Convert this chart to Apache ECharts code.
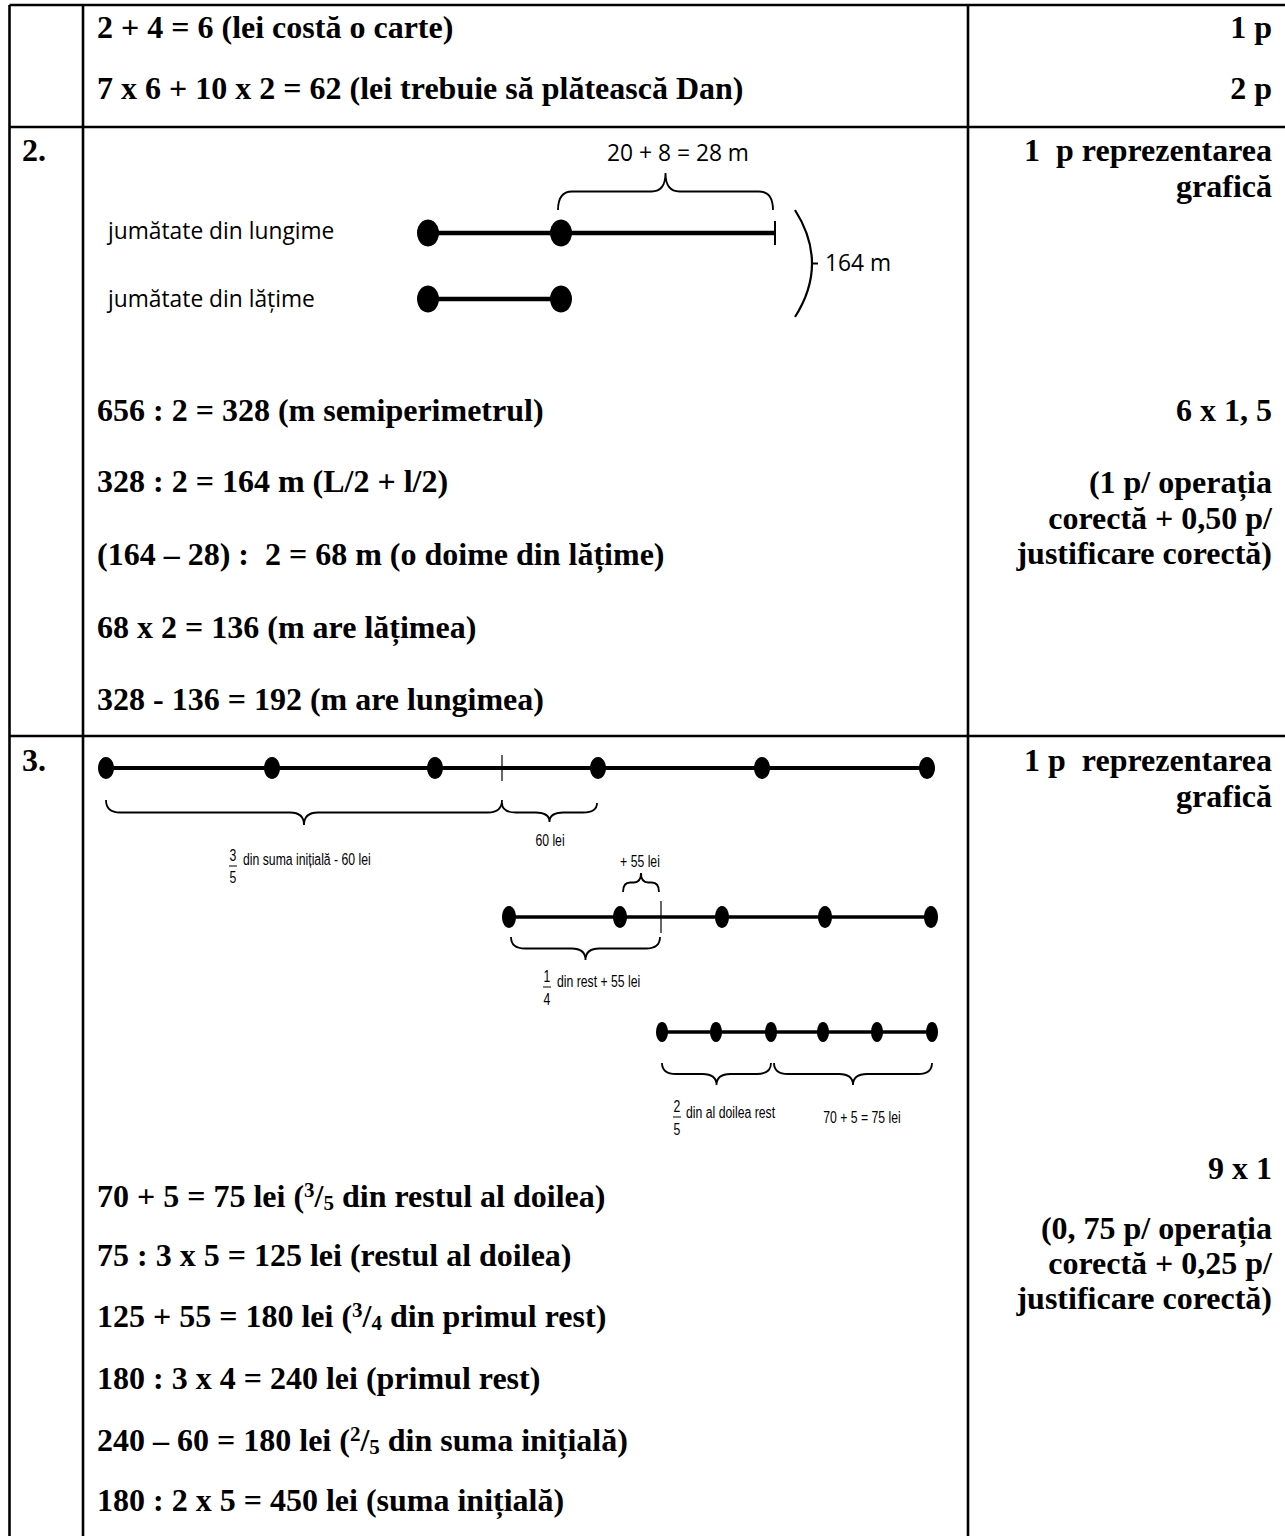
<!DOCTYPE html>
<html><head><meta charset="utf-8">
<style>html,body{margin:0;padding:0;background:#fff}#c{width:1285px;height:1536px}</style>
<script src="https://cdn.jsdelivr.net/npm/echarts@6/dist/echarts.min.js"></script>
</head><body><div id="c"></div><script>
// ---------------- content (text) ----------------
const row1Steps = ["2 + 4 = 6 (lei costă o carte)", "7 x 6 + 10 x 2 = 62 (lei trebuie să plătească Dan)"];
const row1Points = ["1 p", "2 p"];
const row2Number = "2.";
const row2Scoring = ["1  p reprezentarea", "grafică", "6 x 1, 5", "(1 p/ operația", "corectă + 0,50 p/", "justificare corectă)"];
const row2Steps = ["656 : 2 = 328 (m semiperimetrul)", "328 : 2 = 164 m (L/2 + l/2)", "(164 – 28) :  2 = 68 m (o doime din lățime)", "68 x 2 = 136 (m are lățimea)", "328 - 136 = 192 (m are lungimea)"];
const row3Number = "3.";
const row3Scoring = ["1 p  reprezentarea", "grafică", "9 x 1", "(0, 75 p/ operația", "corectă + 0,25 p/", "justificare corectă)"];
const row3Steps = ["70 + 5 = 75 lei ({sup|3}/{den|5} din restul al doilea)", "75 : 3 x 5 = 125 lei (restul al doilea)", "125 + 55 = 180 lei ({sup|3}/{den|4} din primul rest)", "180 : 3 x 4 = 240 lei (primul rest)", "240 – 60 = 180 lei ({sup|2}/{den|5} din suma inițială)", "180 : 2 x 5 = 450 lei (suma inițială)"];
const d2Labels = ["20 + 8 = 28 m", "jumătate din lungime", "jumătate din lățime", "164 m"];
const d3Labels = ["60 lei", "din suma inițială - 60 lei", "+ 55 lei", "din rest + 55 lei", "din al doilea rest", "70 + 5 = 75 lei"];
const d3Fractions = [["3", "5"], ["1", "4"], ["2", "5"]];

// ---------------- diagram values (page-axis units) ----------------
const halfLengthDots = [428, 561];
const halfLengthEnd = 775;
const halfWidthDots = [428, 561];
const d3Line1Dots = [106, 272, 435, 598, 762, 927];
const d3Line1Tick = 502;
const d3Line2Dots = [509, 620, 722, 825, 931];
const d3Line2Tick = 661;
const d3Line3Dots = [662, 716, 771, 823, 877, 932];

// ---------------- layout ----------------
const W = 1285, H = 1536;
const tableCols = [9.5, 83, 968];
const tableRows = [5, 127, 736];
const X_STEP = 97, X_RIGHT = 1272, X_NUM = 22;
const row1Y = [27, 88];
const row2ScoreY = [150, 186, 410, 482, 518, 553];
const row2StepY = [410, 481, 554, 627, 699];
const row3ScoreY = [760, 796, 1168, 1228, 1263, 1298];
const row3StepY = [1196, 1255, 1316, 1378, 1440, 1500];
const d2Y = {len: 233, wid: 299};
const d3Y = [768, 917, 1032];

const SERIF = '"Liberation Serif", "Times New Roman", serif';
const SANS = '"Open Sans", "Liberation Sans", sans-serif';
const NARROW = '"Liberation Sans Narrow", "Liberation Sans", sans-serif';
const BOLD = 'bold 32px ' + SERIF;
const SUPRICH = {
  sup: {fontFamily: SERIF, fontWeight: 'bold', fontSize: 21, verticalAlign: 'top', lineHeight: 34},
  den: {fontFamily: SERIF, fontWeight: 'bold', fontSize: 21, verticalAlign: 'bottom', lineHeight: 34}
};

const texts = [];
function addText(text, x, y, opt) { texts.push(Object.assign({text: text, x: x, y: y, font: BOLD, align: 'left'}, opt || {})); }

row1Steps.forEach((s, i) => addText(s, X_STEP, row1Y[i]));
row1Points.forEach((s, i) => addText(s, X_RIGHT, row1Y[i], {align: 'right'}));
addText(row2Number, X_NUM, 150);
row2Scoring.forEach((s, i) => addText(s, X_RIGHT, row2ScoreY[i], {align: 'right'}));
row2Steps.forEach((s, i) => addText(s, X_STEP, row2StepY[i]));
addText(row3Number, X_NUM, 760);
row3Scoring.forEach((s, i) => addText(s, X_RIGHT, row3ScoreY[i], {align: 'right'}));
row3Steps.forEach((s, i) => addText(s, X_STEP, row3StepY[i], {rich: SUPRICH, lineHeight: 34}));

const F2 = '23.5px ' + SANS;
addText(d2Labels[0], 678, 152, {font: F2, align: 'center', scaleX: 0.97});
addText(d2Labels[1], 108, 230, {font: F2, scaleX: 0.97});
addText(d2Labels[2], 108, 298, {font: F2, scaleX: 0.97});
addText(d2Labels[3], 825, 262, {font: F2, scaleX: 0.97});

const F3 = '17px ' + NARROW;
const SX = 0.72;
addText(d3Labels[0], 550, 840, {font: F3, align: 'center', scaleX: SX});
addText(d3Labels[1], 243, 859, {font: F3, scaleX: SX});
addText(d3Labels[2], 640, 861, {font: F3, align: 'center', scaleX: SX});
addText(d3Labels[3], 557, 981, {font: F3, scaleX: SX});
addText(d3Labels[4], 686, 1112, {font: F3, scaleX: SX});
addText(d3Labels[5], 862, 1117, {font: F3, align: 'center', scaleX: SX});
const fracPos = [[233, 855, 866, 877], [547, 976, 987, 999], [677, 1106, 1117, 1129]];
d3Fractions.forEach((f, i) => {
  const p = fracPos[i];
  addText(f[0], p[0], p[1], {font: F3, align: 'center', scaleX: SX});
  addText(f[1], p[0], p[3], {font: F3, align: 'center', scaleX: SX});
});

// segments: [x1, y1, x2, y2, width]
const segs = [];
tableRows.forEach(y => segs.push([tableCols[0], y, W, y, 2.6]));
tableCols.forEach(x => segs.push([x, tableRows[0], x, H, 2.6]));
segs.push([halfLengthEnd, d2Y.len - 12, halfLengthEnd, d2Y.len + 12, 2]);
segs.push([d3Line1Tick, d3Y[0] - 13, d3Line1Tick, d3Y[0] + 13, 1.2]);
segs.push([d3Line2Tick, d3Y[1] - 16, d3Line2Tick, d3Y[1] + 16, 1.2]);
fracPos.forEach(p => segs.push([p[0] - 4, p[2], p[0] + 4, p[2], 1]));

// braces: [x1, x2, yEnd, depth]
const braces = [
  [558, 773, 210, -37],
  [106, 502, 800, 25],
  [502, 597, 803, 19],
  [623, 659, 892, -19],
  [511, 660, 937, 23],
  [662, 771, 1063, 22],
  [774, 932, 1063, 22]
];

function renderSeg(params, api) {
  const a = api.coord([api.value(0), api.value(1)]);
  const b = api.coord([api.value(2), api.value(3)]);
  return {type: 'line', shape: {x1: a[0], y1: a[1], x2: b[0], y2: b[1]}, style: {stroke: '#000', lineWidth: api.value(4)}};
}
function renderBrace(params, api) {
  const a = api.coord([api.value(0), api.value(2)]);
  const b = api.coord([api.value(1), api.value(2)]);
  const t = api.coord([api.value(1), api.value(2) + api.value(3)]);
  const x1 = a[0], x2 = b[0], y0 = a[1], yt = t[1];
  const ym = y0 + (yt - y0) * 0.5;
  const xm = (x1 + x2) / 2;
  const r = Math.min(14, (x2 - x1) / 5);
  const d = `M${x1},${y0} Q${x1},${ym} ${x1 + r},${ym} L${xm - r},${ym} Q${xm},${ym} ${xm},${yt} Q${xm},${ym} ${xm + r},${ym} L${x2 - r},${ym} Q${x2},${ym} ${x2},${y0}`;
  return {type: 'path', shape: {pathData: d}, style: {stroke: '#000', fill: 'none', lineWidth: 1.8}};
}
function renderParen(params, api) {
  const top = api.coord([api.value(0), api.value(1)]);
  const bot = api.coord([api.value(0), api.value(2)]);
  const ctl = api.coord([api.value(0) + api.value(3), (api.value(1) + api.value(2)) / 2]);
  const mid = api.coord([api.value(0) + api.value(3) / 2, (api.value(1) + api.value(2)) / 2]);
  const d = `M${top[0]},${top[1]} Q${ctl[0]},${ctl[1]} ${bot[0]},${bot[1]} M${mid[0]},${mid[1]} L${mid[0] + 6},${mid[1]}`;
  return {type: 'path', shape: {pathData: d}, style: {stroke: '#000', fill: 'none', lineWidth: 2.2}};
}
function renderText(params, api) {
  const t = texts[api.value(2)];
  const p = api.coord([api.value(0), api.value(1)]);
  const style = {text: t.text, x: 0, y: 0, font: t.font, fill: '#000', align: t.align, verticalAlign: 'middle'};
  if (t.rich) { style.rich = t.rich; style.lineHeight = t.lineHeight; }
  return {type: 'text', x: p[0], y: p[1], scaleX: t.scaleX || 1, style: style};
}

function lineSeries(x0, x1, y, w) {
  return {type: 'line', data: [[x0, y], [x1, y]], symbol: 'none', lineStyle: {color: '#000', width: w}, silent: true, animation: false, z: 2};
}
function dotSeries(xs, y, size) {
  return {type: 'scatter', data: xs.map(x => [x, y]), symbol: 'circle', symbolSize: size, itemStyle: {color: '#000', opacity: 1}, silent: true, animation: false, z: 3};
}

const chart = echarts.init(document.getElementById('c'), null, {renderer: 'svg', width: W, height: H});
chart.setOption({
  backgroundColor: '#fff',
  animation: false,
  grid: {left: 0, right: 0, top: 0, bottom: 0},
  xAxis: {type: 'value', min: 0, max: W, show: false},
  yAxis: {type: 'value', min: 0, max: H, inverse: true, show: false},
  series: [
    {type: 'custom', renderItem: renderSeg, data: segs, clip: false, silent: true, z: 1},
    lineSeries(halfLengthDots[0], halfLengthEnd, d2Y.len, 4.5),
    lineSeries(halfWidthDots[0], halfWidthDots[halfWidthDots.length - 1], d2Y.wid, 4.5),
    lineSeries(d3Line1Dots[0], d3Line1Dots[d3Line1Dots.length - 1], d3Y[0], 3.8),
    lineSeries(d3Line2Dots[0], d3Line2Dots[d3Line2Dots.length - 1], d3Y[1], 3.5),
    lineSeries(d3Line3Dots[0], d3Line3Dots[d3Line3Dots.length - 1], d3Y[2], 3.5),
    dotSeries(halfLengthDots, d2Y.len, [22, 27]),
    dotSeries(halfWidthDots, d2Y.wid, [22, 27]),
    dotSeries(d3Line1Dots, d3Y[0], [16, 22]),
    dotSeries(d3Line2Dots, d3Y[1], [14, 22]),
    dotSeries(d3Line3Dots, d3Y[2], [12, 20]),
    {type: 'custom', renderItem: renderBrace, data: braces, clip: false, silent: true, z: 2},
    {type: 'custom', renderItem: renderParen, data: [[795, 210, 317, 34]], clip: false, silent: true, z: 2},
    {type: 'custom', renderItem: renderText, data: texts.map((t, i) => [t.x, t.y, i]), clip: false, silent: true, z: 5}
  ]
});
</script></body></html>
